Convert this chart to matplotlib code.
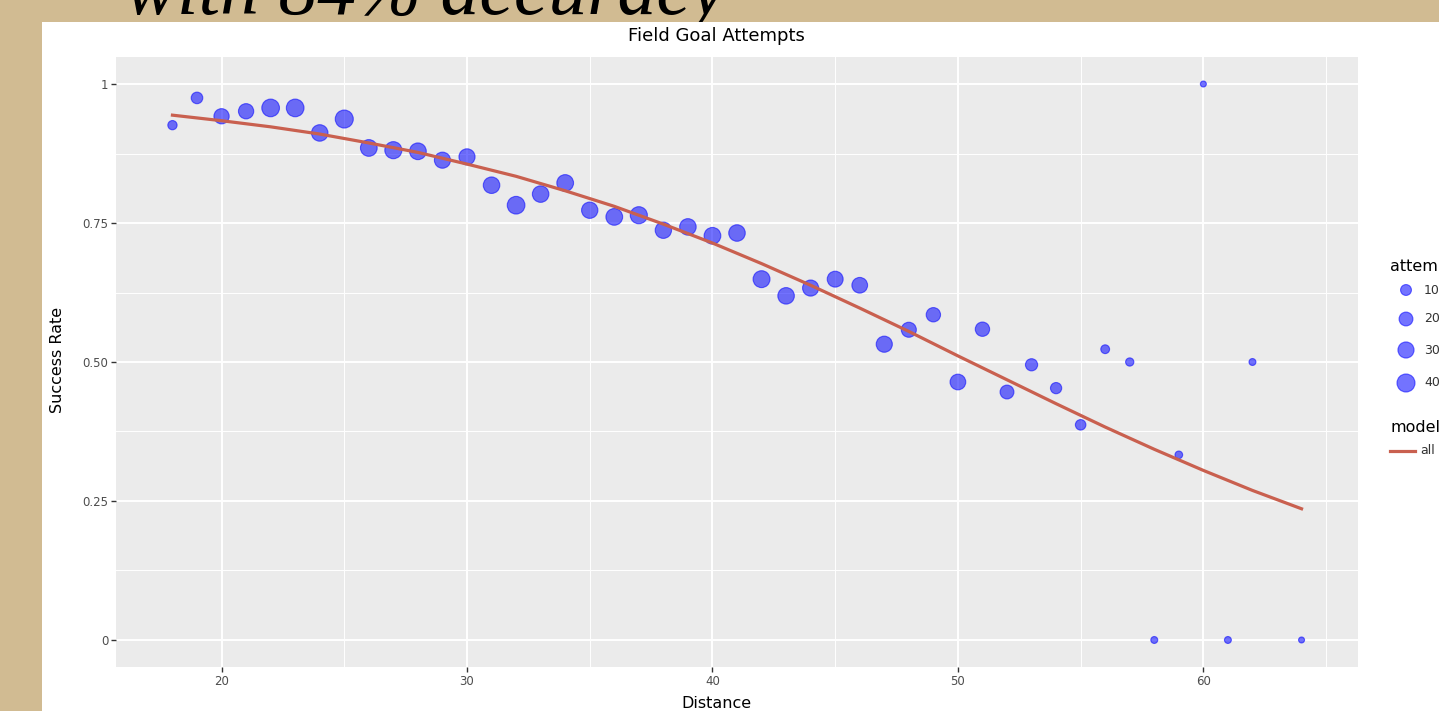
import numpy as np
import matplotlib.pyplot as plt
from matplotlib.patches import Rectangle

# kick distance (yards), observed success rate and number of attempts
distance = [18, 19, 20, 21, 22, 23, 24, 25, 26, 27, 28, 29, 30, 31, 32, 33,
            34, 35, 36, 37, 38, 39, 40, 41, 42, 43, 44, 45, 46, 47, 48, 49,
            50, 51, 52, 53, 54, 55, 56, 57, 58, 59, 60, 61, 62, 64]
success_rate = [0.926, 0.975, 0.942, 0.951, 0.957, 0.957, 0.912, 0.937,
                0.885, 0.881, 0.879, 0.863, 0.869, 0.818, 0.782, 0.802,
                0.822, 0.773, 0.761, 0.764, 0.737, 0.743, 0.727, 0.732,
                0.649, 0.619, 0.633, 0.649, 0.638, 0.532, 0.558, 0.585,
                0.464, 0.559, 0.446, 0.495, 0.453, 0.387, 0.523, 0.500,
                0.0, 0.333, 1.0, 0.0, 0.500, 0.0]
attempts = [6, 12, 26, 26, 38, 38, 32, 40, 33, 35, 33, 30, 30, 32, 38, 32,
            33, 31, 33, 35, 31, 32, 33, 32, 34, 32, 30, 29, 28, 30, 25, 22,
            28, 22, 20, 14, 11, 9, 5, 4, 2, 3, 1, 2, 2, 1]

# fitted model curve ("all")
model_distance = [18, 20, 22, 24, 26, 28, 30, 32, 34, 36, 38, 40, 42, 44,
                  46, 48, 50, 52, 54, 56, 58, 60, 62, 64]
model_rate = [0.944, 0.934, 0.923, 0.910, 0.894, 0.877, 0.856, 0.834,
              0.808, 0.780, 0.748, 0.714, 0.677, 0.638, 0.597, 0.555,
              0.511, 0.468, 0.425, 0.383, 0.343, 0.305, 0.269, 0.236]

size_breaks = [10, 20, 30, 40]

W, H = 1439, 711
POINT_COLOR = '#0000ff'
LINE_COLOR = '#c9604f'


def px_box(x0, y0, x1, y1):
    """Pixel box (top-left origin) -> figure fraction [left, bottom, w, h]."""
    return [x0 / W, 1 - y1 / H, (x1 - x0) / W, (y1 - y0) / H]


def marker_area(n):
    """Area scale: radius grows with sqrt(attempts)."""
    r = 1.87 + 1.13 * np.sqrt(np.asarray(n, dtype=float))
    return (2 * r * 0.72) ** 2


fig = plt.figure(figsize=(W / 100, H / 100), dpi=100, facecolor='#d1bb92')
# slide heading, mostly cropped off; the white panel hides its descenders
fig.text(125 / W, 1 - 14 / H, 'with 84% accuracy', family='Liberation Serif',
         style='italic', fontsize=56, va='baseline', color='black', zorder=0)
fig.add_artist(Rectangle((42 / W, 0), 1 - 42 / W, 1 - 22 / H,
                         transform=fig.transFigure, facecolor='white',
                         edgecolor='none', zorder=1))

ax = fig.add_axes(px_box(116, 57, 1358, 667))
ax.set_zorder(2)
ax.set_facecolor('#ebebeb')
ax.scatter(distance, success_rate, s=marker_area(attempts), color=POINT_COLOR,
           alpha=0.55, linewidths=0.8, zorder=3)
ax.plot(model_distance, model_rate, color=LINE_COLOR, lw=2.3, zorder=4)

ax.set_xlim(15.7, 66.3)
ax.set_ylim(-0.0486, 1.0486)
ax.set_xticks([20, 30, 40, 50, 60])
ax.set_xticks([25, 35, 45, 55, 65], minor=True)
ax.set_yticks([0, 0.25, 0.5, 0.75, 1], labels=['0', '0.25', '0.50', '0.75', '1'])
ax.set_yticks([0.125, 0.375, 0.625, 0.875], minor=True)
ax.grid(which='major', color='white', lw=1.4)
ax.grid(which='minor', color='white', lw=0.7)
ax.set_axisbelow(True)
ax.tick_params(which='major', length=3.5, width=1, color='#333333',
               labelcolor='#4d4d4d', labelsize=8.5, pad=2)
ax.tick_params(which='minor', length=0)
for sp in ax.spines.values():
    sp.set_visible(False)

fig.text(716 / W, 1 - 36 / H, 'Field Goal Attempts', ha='center', va='center',
         fontsize=13, zorder=2)
fig.text(716 / W, 1 - 703 / H, 'Distance', ha='center', va='center',
         fontsize=11.5, zorder=2)
fig.text(58 / W, 1 - 360 / H, 'Success Rate', ha='center', va='center',
         rotation=90, fontsize=11.5, zorder=2)

# legends drawn on a pixel-space overlay
lg = fig.add_axes([0, 0, 1, 1], facecolor='none')
lg.set_zorder(3)
lg.set_xlim(0, W)
lg.set_ylim(H, 0)
lg.axis('off')
lg.text(1390, 267, 'attempts', va='center', fontsize=11.5)
legend_y = [290, 319, 350, 383]
lg.scatter([1406] * len(size_breaks), legend_y, s=marker_area(size_breaks),
           color=POINT_COLOR, alpha=0.55, linewidths=0.8, clip_on=False)
for b, y in zip(size_breaks, legend_y):
    lg.text(1424, y, str(b), va='center', fontsize=9, color='#333333')
lg.text(1390, 428, 'model', va='center', fontsize=11.5)
lg.plot([1390, 1415], [451, 451], color=LINE_COLOR, lw=2.3, clip_on=False)
lg.text(1420, 451, 'all', va='center', fontsize=9, color='#333333')

fig.savefig('out.png', dpi=100, facecolor=fig.get_facecolor())
